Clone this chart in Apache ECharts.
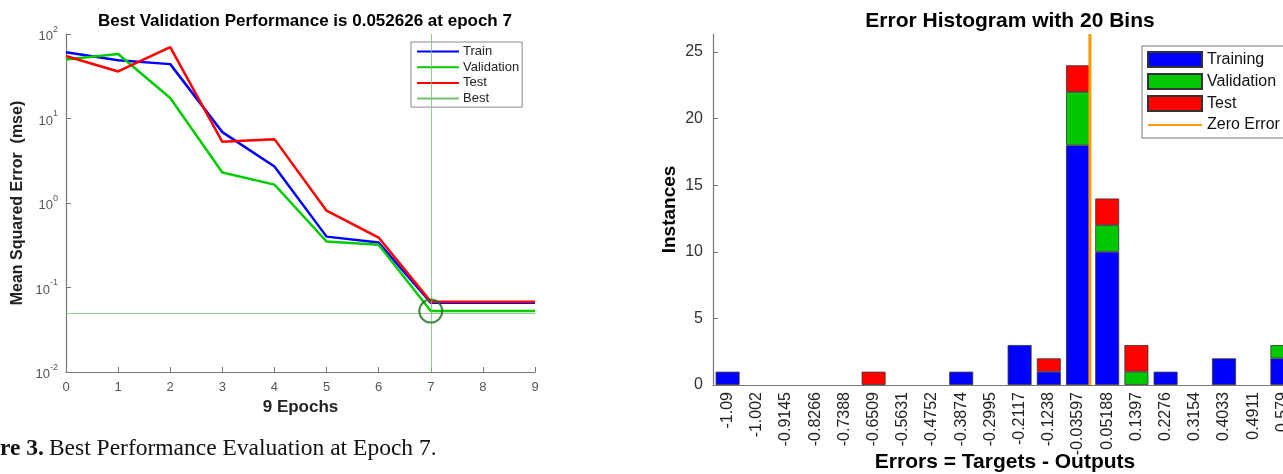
<!DOCTYPE html>
<html>
<head>
<meta charset="utf-8">
<script src="https://cdn.jsdelivr.net/npm/echarts@6/dist/echarts.min.js"></script>
<style>
  html, body { margin: 0; padding: 0; background: #fff; }
  #main { width: 1283px; height: 474px; }
</style>
</head>
<body>
<div id="main"></div>
<script>
// performance plot (left)
var epochs = [0, 1, 2, 3, 4, 5, 6, 7, 8, 9];
var trainMse = [61, 49, 44, 6.9, 2.7, 0.40, 0.34, 0.066, 0.066, 0.066];
var validMse = [50, 58, 17.5, 2.3, 1.65, 0.35, 0.32, 0.052626, 0.052626, 0.052626];
var testMse = [55, 36, 70, 5.3, 5.7, 0.81, 0.39, 0.068, 0.068, 0.068];
var bestEpoch = 7;
var bestPerf = 0.052626;

// error histogram (right)
var binLabels = ['-1.09', '-1.002', '-0.9145', '-0.8266', '-0.7388', '-0.6509', '-0.5631', '-0.4752',
  '-0.3874', '-0.2995', '-0.2117', '-0.1238', '-0.03597', '0.05188', '0.1397', '0.2276', '0.3154',
  '0.4033', '0.4911', '0.579'];
var trainCounts = [1, 0, 0, 0, 0, 0, 0, 0, 1, 0, 3, 1, 18, 10, 0, 1, 0, 2, 0, 2];
var validCounts = [0, 0, 0, 0, 0, 0, 0, 0, 0, 0, 0, 0, 4, 2, 1, 0, 0, 0, 0, 1];
var testCounts = [0, 0, 0, 0, 0, 1, 0, 0, 0, 0, 0, 1, 2, 2, 2, 0, 0, 0, 0, 0];
var histMax = 26.35;

var FONT = "'Liberation Sans', Arial, sans-serif";
var SERIF = "'Liberation Serif', serif";

function pairs(xs, ys) {
  return xs.map(function (x, i) { return [x, ys[i]]; });
}
function noZero(arr) {
  return arr.map(function (v) { return v === 0 ? '-' : v; });
}
var firstBin = parseFloat(binLabels[0]);
var lastBin = parseFloat(binLabels[binLabels.length - 1]);
var halfBin = (lastBin - firstBin) / (binLabels.length - 1) / 2;

var myChart = echarts.init(document.getElementById('main'));
myChart.setOption({
  animation: false,
  textStyle: { fontFamily: FONT },
  title: [
    {
      text: 'Best Validation Performance is 0.052626 at epoch 7',
      left: 300, top: 8, textAlign: 'center',
      textStyle: { fontSize: 17, fontWeight: 'bold', color: '#000', fontFamily: FONT }
    },
    {
      text: 'Error Histogram with 20 Bins',
      left: 1005, top: 6, textAlign: 'center',
      textStyle: { fontSize: 21, fontWeight: 'bold', color: '#000', fontFamily: FONT }
    },
    {
      text: '{b|re 3.} {n|Best Performance Evaluation at Epoch 7.}',
      left: -5, top: 432,
      textStyle: {
        fontWeight: 'normal',
        rich: {
          b: { fontFamily: SERIF, fontSize: 23.5, fontWeight: 'bold', color: '#111' },
          n: { fontFamily: SERIF, fontSize: 23.5, fontWeight: 'normal', color: '#111' }
        }
      }
    }
  ],
  legend: [
    {
      data: ['Train', 'Validation', 'Test', 'Best'],
      orient: 'vertical',
      left: 411, top: 42,
      itemWidth: 42, itemHeight: 14, itemGap: 2.7,
      padding: [3, 3, 2, 5],
      borderColor: '#888', borderWidth: 1,
      backgroundColor: '#fff',
      itemStyle: { opacity: 0 },
      textStyle: { fontSize: 13, color: '#222', fontFamily: FONT, padding: [0, 0, 0, -1] }
    },
    {
      data: [
        { name: 'Training', icon: 'rect' },
        { name: 'Validation ', icon: 'rect' },
        { name: 'Test ', icon: 'rect' },
        { name: 'Zero Error', itemStyle: { opacity: 0 } }
      ],
      orient: 'vertical',
      left: 1142, top: 46,
      itemWidth: 54, itemHeight: 15, itemGap: 5,
      padding: [5, 8, 5, 5],
      borderColor: '#777', borderWidth: 1,
      backgroundColor: '#fff',
      textStyle: { fontSize: 16, color: '#111', fontFamily: FONT }
    }
  ],
  grid: [
    { left: 66, top: 34, width: 469, height: 338, outerBoundsMode: 'none', containLabel: false },
    { left: 713, top: 34, width: 584, height: 351, outerBoundsMode: 'none', containLabel: false }
  ],
  xAxis: [
    {
      gridIndex: 0, type: 'value', min: 0, max: 9, interval: 1,
      name: '9 Epochs', nameLocation: 'middle', nameGap: 27,
      nameTextStyle: { fontSize: 17, fontWeight: 'bold', color: '#222' },
      axisLine: { onZero: false, lineStyle: { color: '#777', width: 1.2 } },
      axisTick: { inside: true, length: 5, lineStyle: { color: '#777' } },
      axisLabel: { fontSize: 13, color: '#555', margin: 9 },
      splitLine: { show: false }
    },
    {
      gridIndex: 1, type: 'category', data: binLabels,
      name: 'Errors = Targets - Outputs', nameLocation: 'middle', nameGap: 67,
      nameMoveOverlap: false,
      nameTextStyle: { fontSize: 21, fontWeight: 'bold', color: '#000' },
      axisLine: { onZero: false, lineStyle: { color: '#777', width: 1.2 } },
      axisTick: { inside: true, alignWithLabel: true, length: 5, lineStyle: { color: '#777' } },
      axisLabel: { interval: 0, rotate: 90, fontSize: 16, color: '#222', margin: 7 },
      splitLine: { show: false }
    },
    {
      gridIndex: 1, type: 'value', min: firstBin - halfBin, max: lastBin + halfBin, show: false
    }
  ],
  yAxis: [
    {
      gridIndex: 0, type: 'log', logBase: 10, min: 0.01, max: 100,
      name: 'Mean Squared Error  (mse)', nameLocation: 'middle', nameGap: 40,
      nameTextStyle: { fontSize: 16, fontWeight: 'bold', color: '#222' },
      axisLine: { show: true, onZero: false, lineStyle: { color: '#777', width: 1.2 } },
      axisTick: { show: true, inside: true, length: 5, lineStyle: { color: '#777' } },
      axisLabel: {
        margin: 8,
        formatter: function (v) {
          var e = Math.round(Math.log10(v));
          return '{b|10}{s|' + e + '}';
        },
        rich: {
          b: { fontSize: 13, color: '#555', lineHeight: 18, verticalAlign: 'bottom' },
          s: { fontSize: 9, color: '#555', lineHeight: 18, verticalAlign: 'top' }
        }
      },
      splitLine: { show: false }
    },
    {
      gridIndex: 1, type: 'value', min: 0, max: histMax, interval: 5,
      name: 'Instances', nameLocation: 'middle', nameGap: 34,
      nameTextStyle: { fontSize: 19, fontWeight: 'bold', color: '#000' },
      axisLine: { show: true, onZero: false, lineStyle: { color: '#777', width: 1.2 } },
      axisTick: { show: true, inside: true, length: 5, lineStyle: { color: '#777' } },
      axisLabel: { fontSize: 16, color: '#333', margin: 10, showMaxLabel: false },
      splitLine: { show: false }
    }
  ],
  series: [
    {
      name: 'Train', type: 'line', xAxisIndex: 0, yAxisIndex: 0, symbol: 'none',
      data: pairs(epochs, trainMse),
      lineStyle: { color: '#0000ff', width: 2.5 }, itemStyle: { color: '#0000ff' }
    },
    {
      name: 'Validation', type: 'line', xAxisIndex: 0, yAxisIndex: 0, symbol: 'none',
      data: pairs(epochs, validMse),
      lineStyle: { color: '#00cc00', width: 2.5 }, itemStyle: { color: '#00cc00' }
    },
    {
      name: 'Test', type: 'line', xAxisIndex: 0, yAxisIndex: 0, symbol: 'none',
      data: pairs(epochs, testMse),
      lineStyle: { color: '#ff0000', width: 2.5 }, itemStyle: { color: '#ff0000' }
    },
    {
      name: 'Best', type: 'line', xAxisIndex: 0, yAxisIndex: 0, symbol: 'none', z: 1,
      data: [[bestEpoch, bestPerf]],
      lineStyle: { color: '#74c274', width: 1 }, itemStyle: { color: '#74c274' },
      markLine: {
        silent: true, symbol: ['none', 'none'], label: { show: false },
        lineStyle: { color: '#74c274', width: 1, type: 'solid', opacity: 0.8 },
        data: [{ xAxis: bestEpoch }, { yAxis: bestPerf }]
      }
    },
    {
      type: 'scatter', xAxisIndex: 0, yAxisIndex: 0, z: 5,
      data: [[bestEpoch, bestPerf]], symbol: 'circle', symbolSize: 23,
      itemStyle: { color: 'rgba(0,0,0,0)', borderColor: '#166b16', borderWidth: 2 }
    },
    {
      name: 'Training', type: 'bar', stack: 'h', xAxisIndex: 1, yAxisIndex: 1,
      data: noZero(trainCounts), barCategoryGap: '18%',
      itemStyle: { color: '#0000ff', borderColor: '#333', borderWidth: 0.8 }
    },
    {
      name: 'Validation ', type: 'bar', stack: 'h', xAxisIndex: 1, yAxisIndex: 1,
      data: noZero(validCounts), barCategoryGap: '18%',
      itemStyle: { color: '#00c800', borderColor: '#333', borderWidth: 0.8 }
    },
    {
      name: 'Test ', type: 'bar', stack: 'h', xAxisIndex: 1, yAxisIndex: 1,
      data: noZero(testCounts), barCategoryGap: '18%',
      itemStyle: { color: '#ff0000', borderColor: '#333', borderWidth: 0.8 }
    },
    {
      name: 'Zero Error', type: 'line', xAxisIndex: 2, yAxisIndex: 1, symbol: 'none', z: 6,
      data: [[0, 0], [0, histMax]],
      lineStyle: { color: '#ff9a00', width: 3 }, itemStyle: { color: '#ff9a00' }
    }
  ]
});
</script>
</body>
</html>
